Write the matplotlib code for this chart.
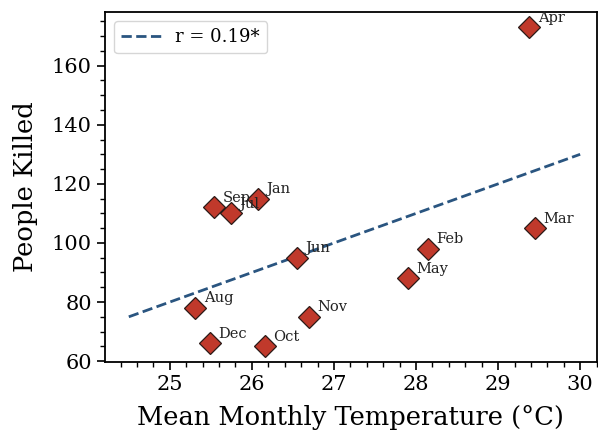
import numpy as np
import matplotlib.pyplot as plt
from matplotlib.ticker import MultipleLocator

plt.rcParams['font.family'] = 'DejaVu Serif'

# Monthly mean temperature vs people killed
months = ['Jan', 'Feb', 'Mar', 'Apr', 'May', 'Jun',
          'Jul', 'Aug', 'Sep', 'Oct', 'Nov', 'Dec']
temperature = [26.07, 28.14, 29.45, 29.38, 27.90, 26.55,
               25.74, 25.31, 25.54, 26.16, 26.70, 25.49]
killed = [115, 98, 105, 173, 88, 95,
          110, 78, 112, 65, 75, 66]

# regression line end points
trend_x = [24.5, 30.0]
trend_y = [75.0, 130.0]
r_label = 'r = 0.19*'

fig = plt.figure(figsize=(5.98, 4.36), dpi=100)
ax = fig.add_axes([0.1756, 0.1697, 0.822, 0.803])

ax.plot(trend_x, trend_y, '--', color='#2a5580', lw=2, label=r_label, zorder=2)
ax.plot(temperature, killed, 'D', ms=11, color='#c0392b', mec='#2b1a17',
        mew=0.9, ls='none', zorder=3)

for m, x, y in zip(months, temperature, killed):
    ax.annotate(m, (x, y), xytext=(6, 4), textcoords='offset points',
                fontsize=10.5, color='#222222', zorder=4)

ax.set_xlim(24.21, 30.2)
ax.set_ylim(59.7, 178.2)
ax.xaxis.set_major_locator(MultipleLocator(1))
ax.xaxis.set_minor_locator(MultipleLocator(0.2))
ax.yaxis.set_major_locator(MultipleLocator(20))
ax.yaxis.set_minor_locator(MultipleLocator(5))
ax.tick_params(which='major', length=6, width=1.2, labelsize=15)
ax.tick_params(which='minor', length=3.5, width=1)
for s in ax.spines.values():
    s.set_linewidth(1.3)

ax.set_xlabel('Mean Monthly Temperature (°C)', fontsize=18.5, labelpad=8)
ax.set_ylabel('People Killed', fontsize=18.5, labelpad=10)
ax.legend(loc='upper left', fontsize=13, handlelength=2.2)

fig.savefig('out.png', dpi=100)
